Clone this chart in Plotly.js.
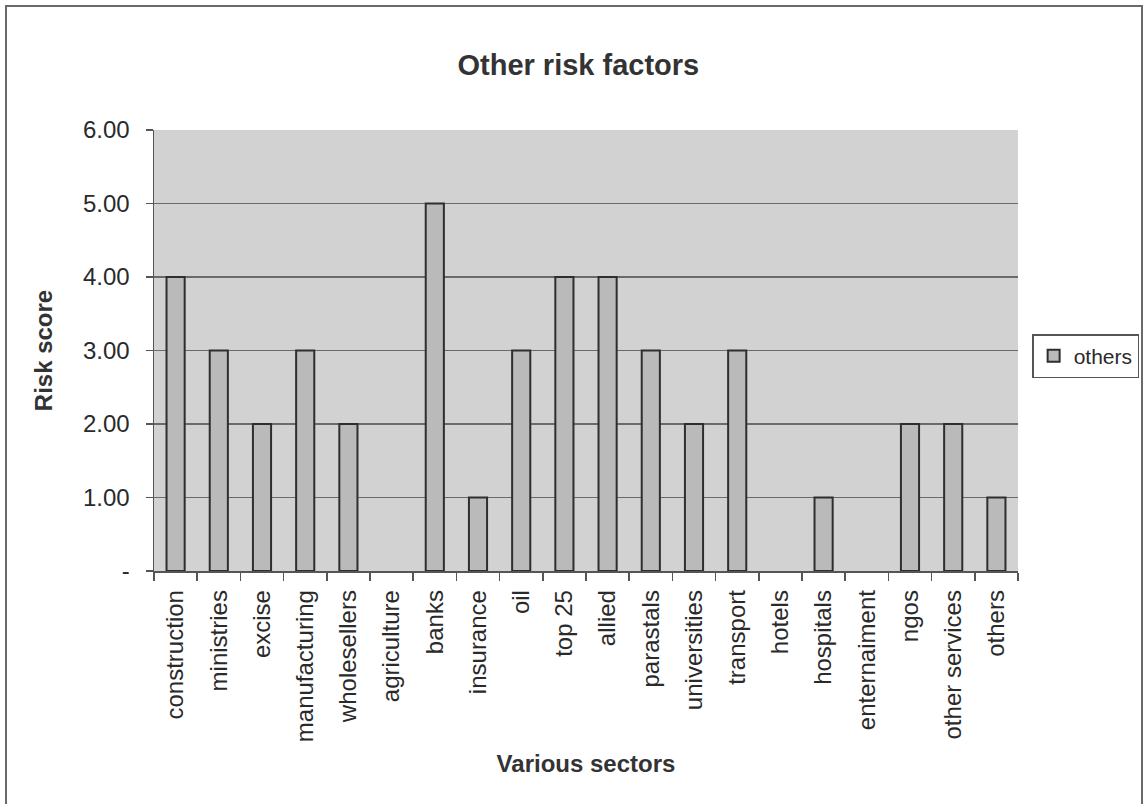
<!DOCTYPE html>
<html>
<head>
<meta charset="utf-8">
<script src="https://cdn.plot.ly/plotly-3.0.1.min.js"></script>
<style>
  html, body { margin: 0; padding: 0; background: #ffffff; overflow: hidden; }
  #frame { position: absolute; left: 5px; top: 5px; width: 1138px; height: 820px;
           border: 2px solid #6a6a6a; box-sizing: border-box; }
  #chart { position: absolute; left: 0; top: 0; width: 1143px; height: 804px; }
</style>
</head>
<body>
<div id="frame"></div>
<div id="chart"></div>
<script>
// Risk score for each sector
const sectors = ["construction", "ministries", "excise", "manufacturing", "wholesellers",
  "agriculture", "banks", "insurance", "oil", "top 25", "allied", "parastals",
  "universities", "transport", "hotels", "hospitals", "enternaiment", "ngos",
  "other services", "others"];
const scores = [4, 3, 2, 3, 2, 0, 5, 1, 3, 4, 4, 3, 2, 3, 0, 1, 0, 2, 2, 1];
const seriesName = "others";
const yTickVals = [0, 1, 2, 3, 4, 5, 6];
const yTickText = ["-", "1.00", "2.00", "3.00", "4.00", "5.00", "6.00"];

const font = "Liberation Sans, Arial, sans-serif";
const ink = "#2a2a2a";

// empty sectors get no outline, so nothing is drawn on the baseline for them
const outlineWidths = scores.map(v => (v > 0 ? 2 : 0));

Plotly.newPlot("chart", [{
  type: "bar",
  x: sectors,
  y: scores,
  name: seriesName,
  showlegend: true,
  marker: { color: "#bababa", line: { color: "#2e2e2e", width: outlineWidths } }
}], {
  width: 1143, height: 804,
  margin: { l: 154, r: 125, t: 130, b: 233 },
  paper_bgcolor: "rgba(0,0,0,0)",
  plot_bgcolor: "#d2d2d2",
  bargap: 0.58,
  font: { family: font, color: ink },
  title: { text: "<b>Other risk factors</b>", font: { size: 29, family: font, color: "#333" },
           x: 0.506, xref: "container", y: 52, yref: "container", yanchor: "middle" },
  xaxis: {
    type: "category",
    tickson: "boundaries",
    ticks: "outside", ticklen: 8, tickcolor: "#555", tickwidth: 1.5,
    tickangle: -90,
    ticklabelstandoff: 8,
    tickfont: { size: 24, family: font, color: ink },
    showline: true, linecolor: "#555", linewidth: 1.5,
    showgrid: false,
    title: { text: "<b>Various sectors</b>", font: { size: 24, family: font, color: "#333" }, standoff: 14 },
    automargin: false
  },
  yaxis: {
    range: [0, 6],
    tickvals: yTickVals, ticktext: yTickText,
    ticks: "outside", ticklen: 7, tickcolor: "#555", tickwidth: 1.5,
    ticklabelstandoff: 11,
    tickfont: { size: 24, family: font, color: ink },
    showline: true, linecolor: "#555", linewidth: 1.5,
    showgrid: true, gridcolor: "#6a6a6a", gridwidth: 1.2,
    zeroline: false,
    title: { text: "<b>Risk score</b>", font: { size: 24, family: font, color: "#333" }, standoff: 23 },
    automargin: false
  },
  legend: {
    xref: "container", yref: "container",
    x: 0.903, xanchor: "left", y: 0.557, yanchor: "middle",
    bgcolor: "#ffffff", bordercolor: "#555", borderwidth: 1.5,
    font: { size: 21, family: font, color: ink },
    itemwidth: 30, tracegroupgap: 0
  }
}, { displayModeBar: false, staticPlot: true });
</script>
</body>
</html>
